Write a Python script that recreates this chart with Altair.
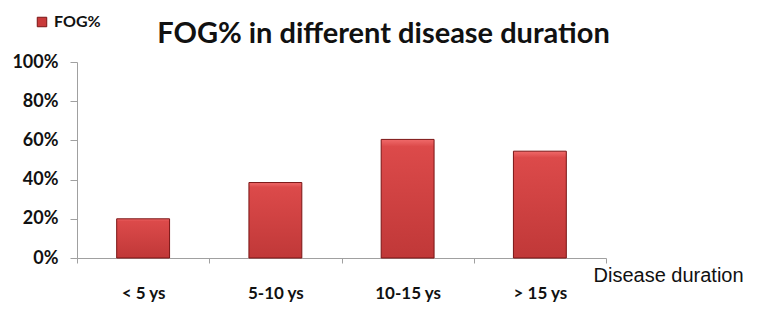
import altair as alt
import pandas as pd

categories = ["< 5 ys", "5-10 ys", "10-15 ys", "> 15 ys"]
values = [0.20, 0.385, 0.605, 0.545]
series = ["FOG%"] * 4

df = pd.DataFrame({"duration": categories, "fog": values, "series": series})

FONT = "Lato"

x_enc = alt.X(
    "duration:N",
    sort=categories,
    scale=alt.Scale(paddingInner=0, paddingOuter=0),
    axis=alt.Axis(
        title="Disease duration",
        titleFont="Liberation Sans",
        titleFontWeight="normal",
        titleFontSize=20,
        titleColor="#111111",
        titleX=516,
        titleY=23,
        titleAlign="left",
        titleBaseline="alphabetic",
        tickBand="extent",
        tickSize=5,
        tickColor="#a0a0a0",
        domainColor="#a0a0a0",
        labelFont=FONT,
        labelFontWeight="bold",
        labelFontSize=17,
        labelColor="#111111",
        labelPadding=22,
        labelAngle=0,
    ),
)
y_enc = alt.Y(
    "fog:Q",
    scale=alt.Scale(domain=[0, 1]),
    axis=alt.Axis(
        title=None,
        format=".0%",
        values=[0, 0.2, 0.4, 0.6, 0.8, 1.0],
        grid=False,
        tickSize=7,
        tickColor="#a0a0a0",
        domainColor="#a0a0a0",
        labelFont=FONT,
        labelFontWeight="bold",
        labelFontSize=18,
        labelColor="#111111",
        labelPadding=12,
    ),
)

bar_width = alt.RelativeBandSize(0.4)

bars = alt.Chart(df).mark_bar(
    width=bar_width,
    stroke="#7a1515",
    strokeWidth=1,
    color={
        "gradient": "linear",
        "x1": 0, "y1": 0, "x2": 0, "y2": 1,
        "stops": [
            {"offset": 0, "color": "#f06a6a"},
            {"offset": 0.06, "color": "#dc4a4a"},
            {"offset": 1, "color": "#c03838"},
        ],
    },
).encode(x=x_enc, y=y_enc)

legend_layer = alt.Chart(df).mark_bar(opacity=0, width=bar_width).encode(
    x=x_enc,
    y=y_enc,
    color=alt.Color(
        "series:N",
        scale=alt.Scale(range=["#c93a3a"]),
        legend=alt.Legend(
            title=None,
            orient="none",
            legendX=-43,
            legendY=-48,
            symbolType="square",
            symbolSize=90,
            symbolOpacity=1,
            symbolStrokeColor="#7a1515",
            symbolStrokeWidth=1,
            labelFont=FONT,
            labelFontWeight="bold",
            labelFontSize=16,
            labelColor="#111111",
        ),
    ),
)

chart = alt.layer(
    bars,
    legend_layer,
    title=alt.Title(
        text="FOG% in different disease duration",
        font=FONT,
        fontSize=29,
        fontWeight="bold",
        color="#111111",
        anchor="middle",
        frame="group",
        baseline="alphabetic",
        dx=42,
        dy=58,
        offset=0,
    ),
).properties(
    width=529,
    height=196,
    autosize=alt.AutoSizeParams(type="none"),
    padding={"left": 69, "top": 54, "right": 140, "bottom": 48},
).configure_view(stroke=None)

chart.save("out.html", embed_options={"renderer": "svg", "actions": False})
